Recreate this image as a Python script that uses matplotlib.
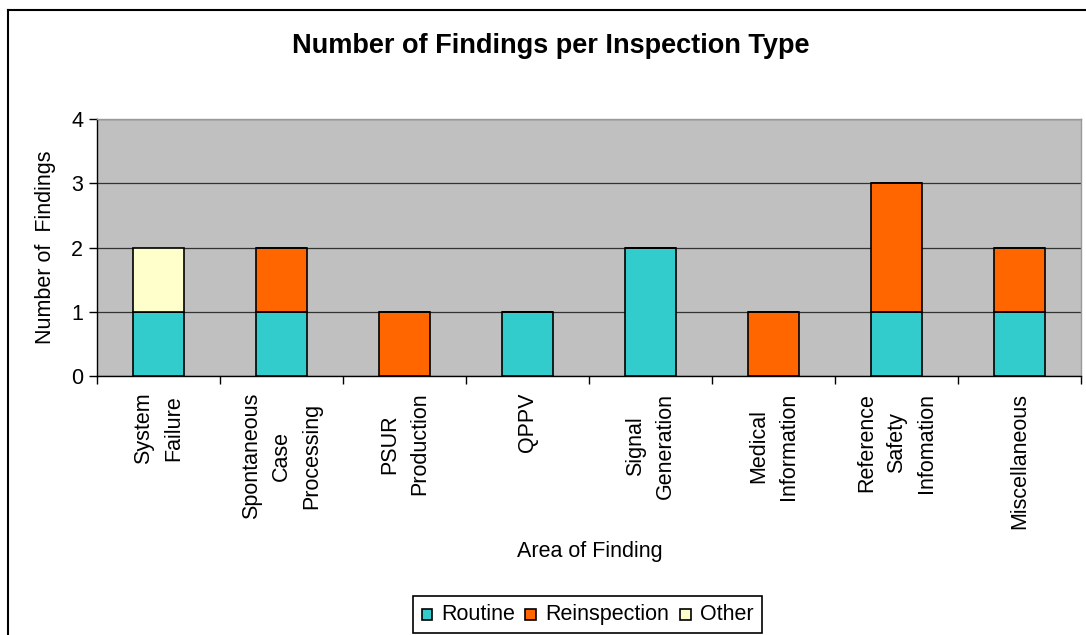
import matplotlib
matplotlib.use("Agg")
import matplotlib.pyplot as plt
import numpy as np
from matplotlib.patches import Rectangle
from matplotlib.lines import Line2D

categories = ["System\nFailure", "Spontaneous\nCase\nProcessing", "PSUR\nProduction", "QPPV",
              "Signal\nGeneration", "Medical\nInformation", "Reference\nSafety\nInfomation", "Miscellaneous"]
routine = [1, 1, 0, 1, 2, 0, 1, 1]
reinspection = [0, 1, 1, 0, 0, 1, 2, 1]
other = [1, 0, 0, 0, 0, 0, 0, 0]
series_names = ["Routine", "Reinspection", "Other"]
colors = ["#33CCCC", "#FF6600", "#FFFFCC"]

plt.rcParams['font.family'] = ['Liberation Sans', 'DejaVu Sans']

W, H = 1086, 635
fig = plt.figure(figsize=(W / 100, H / 100), dpi=100)
ax = fig.add_axes([97/W, 1-376/H, (1081-97)/W, (376-119)/H])
ax.set_facecolor("#C0C0C0")

x = np.arange(len(categories))
w = 0.415
bottom = np.zeros(len(categories))
for vals, c, name in zip([routine, reinspection, other], colors, series_names):
    v = np.array(vals, dtype=float)
    ax.bar(x, v, w, bottom=bottom, color=c, edgecolor="black", linewidth=1.2, label=name, zorder=3)
    bottom += v

ax.set_xlim(-0.5, len(categories) - 0.5)
ax.set_ylim(0, 4)
ax.set_yticks([0, 1, 2, 3, 4])
ax.yaxis.grid(True, color="#333333", linewidth=0.9, zorder=1)
ax.set_axisbelow(True)

ax.set_xticks(x)
ax.set_xticklabels(categories, rotation=90, ha="center", va="top", multialignment="center",
                   fontsize=15.5, linespacing=1.55)
ax.set_xticks(np.arange(-0.5, len(categories)), minor=True)
ax.tick_params(axis="x", which="major", length=0, pad=12)
ax.tick_params(axis="x", which="minor", length=6, width=1, direction="out", color="black")
ax.tick_params(axis="y", length=6, width=1, direction="out", labelsize=15.5, pad=4)

for s in ["left", "bottom"]:
    ax.spines[s].set_color("black")
    ax.spines[s].set_linewidth(1)
for s in ["top", "right"]:
    ax.spines[s].set_color("#999999")
    ax.spines[s].set_linewidth(1)

fig.text(551/W, 1-46/H, "Number of Findings per Inspection Type", ha="center", va="center",
         fontsize=19.5, fontweight="bold")
fig.text(46/W, 1-247/H, "Number of  Findings", rotation=90, ha="center", va="center", fontsize=15.5)
fig.text(590/W, 1-552/H, "Area of Finding", ha="center", va="center", fontsize=15.5)

# legend (drawn manually so all labels share one baseline)
fig.add_artist(Rectangle((413/W, 1-633/H), (762-413)/W, (633-596)/H, transform=fig.transFigure,
                         facecolor="white", edgecolor="black", linewidth=1.2))
sq_x = [421.5, 525, 680]
for sx, c, name in zip(sq_x, colors, series_names):
    fig.add_artist(Rectangle((sx/W, 1-620/H), 10.5/W, 11.5/H, transform=fig.transFigure,
                             facecolor=c, edgecolor="black", linewidth=1.2))
    fig.text((sx + 20)/W, 1-620/H, name, ha="left", va="baseline", fontsize=15.5)

# outer frame
fig.add_artist(Line2D([8/W, 8/W], [0, 1-9.5/H], transform=fig.transFigure, color="black", lw=1.5))
fig.add_artist(Line2D([8/W, 1], [1-9.5/H, 1-9.5/H], transform=fig.transFigure, color="black", lw=1.5))

fig.savefig("out.png", dpi=100, facecolor="white")
